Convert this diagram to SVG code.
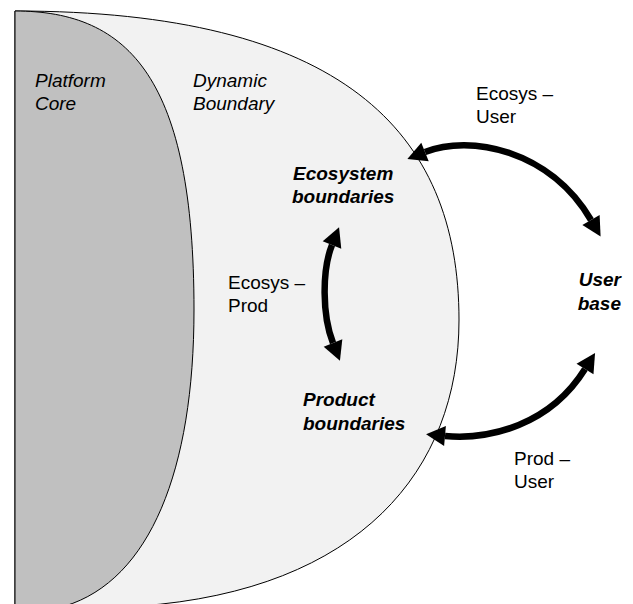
<svg xmlns="http://www.w3.org/2000/svg" width="633" height="604" viewBox="0 0 633 604">
  <style>
    .lbl { font-family: "Liberation Sans", Arial, sans-serif; font-size: 19px; fill: #000; }
    .it { font-style: italic; }
    .bi { font-style: italic; font-weight: bold; }
    .conn { fill: none; stroke: #000; stroke-width: 6.5; stroke-linecap: butt; marker-start: url(#ah); marker-end: url(#ah); }
    .shape { stroke: #000; stroke-width: 1; }
  </style>
  <defs>
    <marker id="ah" markerUnits="userSpaceOnUse" viewBox="0 -10 20 20" refX="0" refY="0" markerWidth="20" markerHeight="20" orient="auto-start-reverse" overflow="visible">
      <path d="M0,-10 L19,0 L0,10 z" fill="#000"/>
    </marker>
  </defs>
  <rect width="633" height="604" fill="#fff"/>

  <g id="dynamic-boundary">
    <path class="shape" fill="#f2f2f2" d="M15,11 C340,11 459,130 459,320 C459,470 360,590 140,606 L15,606 Z"/>
    <text class="lbl it" x="193" y="87">Dynamic</text>
    <text class="lbl it" x="193" y="110">Boundary</text>
  </g>

  <g id="platform-core">
    <path class="shape" fill="#c0c0c0" d="M15,11 C130,11 194,80 194,310 C194,470 150,580 65,606 L15,606 Z"/>
    <text class="lbl it" x="35" y="87">Platform</text>
    <text class="lbl it" x="35" y="110">Core</text>
  </g>

  <g id="ecosystem-boundaries">
    <text class="lbl bi" x="293" y="180">Ecosystem</text>
    <text class="lbl bi" x="292" y="203">boundaries</text>
  </g>

  <g id="product-boundaries">
    <text class="lbl bi" x="303" y="406">Product</text>
    <text class="lbl bi" x="303" y="430">boundaries</text>
  </g>

  <g id="user-base">
    <text class="lbl bi" x="621" y="286" text-anchor="end">User</text>
    <text class="lbl bi" x="621" y="310" text-anchor="end">base</text>
  </g>

  <g id="connectors">
    <path class="conn" d="M425,152 C470,134 550,150 591,220"/>
    <path class="conn" d="M332,245 C322,270 322,315 333,343"/>
    <path class="conn" d="M445,436 C490,440 550,425 585,369"/>
    <text class="lbl" x="476" y="100">Ecosys –</text>
    <text class="lbl" x="476" y="123">User</text>
    <text class="lbl" x="228" y="289">Ecosys –</text>
    <text class="lbl" x="228" y="312">Prod</text>
    <text class="lbl" x="514" y="465">Prod –</text>
    <text class="lbl" x="514" y="488">User</text>
  </g>
</svg>
